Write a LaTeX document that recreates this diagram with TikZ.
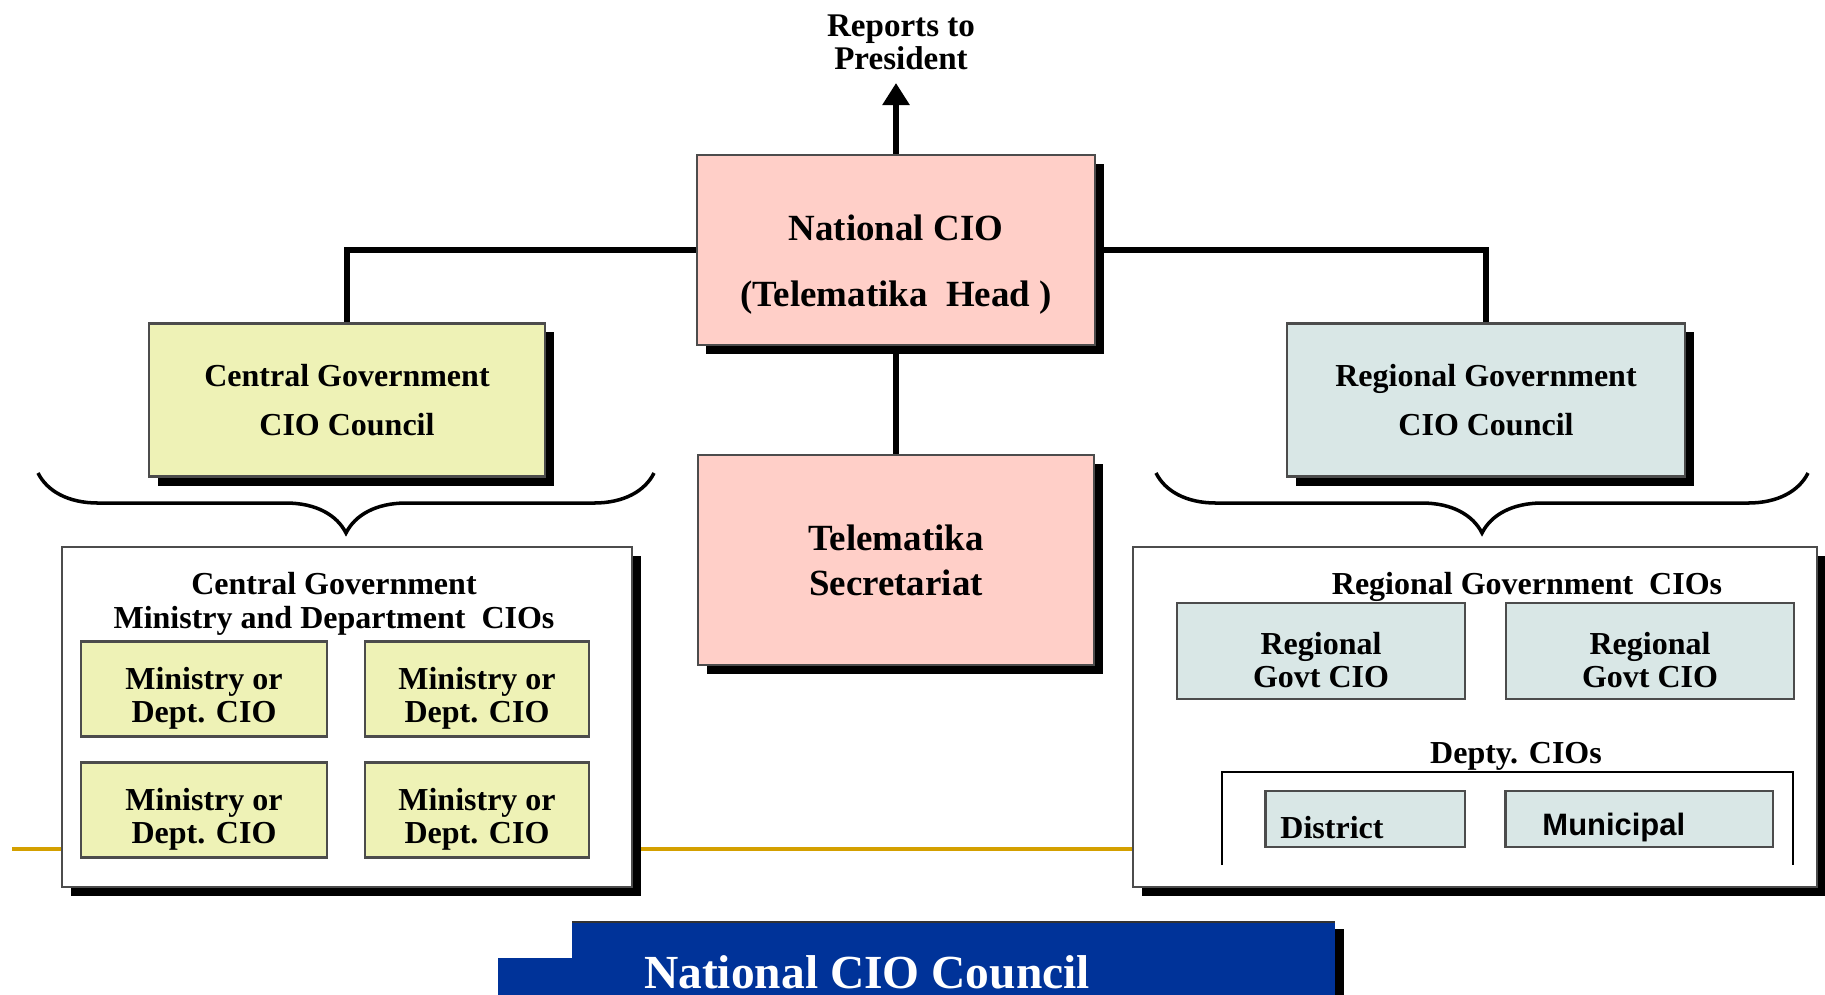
\documentclass[tikz,border=0pt]{standalone}
\usepackage{fontspec}
\setmainfont{Liberation Serif}
\newfontfamily\arialbold{Liberation Sans}
\usepackage{tikz}
\usetikzlibrary{arrows.meta, shadows, decorations.pathreplacing}
\definecolor{Salmon}{HTML}{FFCFC8}
\definecolor{PaleLime}{HTML}{EEF2B6}
\definecolor{Mist}{HTML}{D9E7E6}
\definecolor{RoyalBlue}{HTML}{003399}
\definecolor{Ochre}{HTML}{D4A000}

\begin{document}
\begin{tikzpicture}[x=0.01cm, y=-0.01cm,
        box/.style={draw=black!70, line width=0.6pt, align=center, inner sep=0pt,
                    font=\bfseries\fontsize{9.1}{9.4}\selectfont},
        heavy/.style={box, drop shadow={shadow xshift=0.09cm, shadow yshift=-0.09cm,
                    fill=black, opacity=1}},
        cell/.style={box, minimum height=0.95cm, text width=2.0cm, align=flush center,
                    execute at begin node={\rule{0pt}{0.40cm}}},
        conn/.style={line width=1.85pt},
        curly/.style={line width=1pt, decorate,
                    decoration={brace, mirror, amplitude=0.6cm}}]

        \useasboundingbox (0,0) rectangle (1825,994);

        % Rule running behind the lower boxes
        \draw[Ochre, line width=0.04cm] (12,849) -- (1825,849);

        % Top level
        \node[font=\bfseries\fontsize{9.4}{9.4}\selectfont, align=center] (pres) at (901,42)
              {Reports to\\President};
        \node[heavy, fill=Salmon, minimum width=3.98cm, minimum height=1.90cm, text width=3.6cm,
              align=flush center, font=\bfseries\fontsize{10.5}{18.8}\selectfont,
              execute at begin node={\rule{0pt}{0.55cm}}] (natcio) at (896,250)
              {National CIO\\(Telematika\ \ Head )};
        \node[heavy, fill=Salmon, minimum width=3.96cm, minimum height=2.10cm,
              font=\bfseries\fontsize{10.5}{12.8}\selectfont] (secr) at (896,560)
              {Telematika\\Secretariat};

        % Councils
        \node[heavy, fill=PaleLime, minimum width=3.95cm, minimum height=1.53cm,
              font=\bfseries\fontsize{9.1}{13.7}\selectfont] (cgcouncil) at (347,400)
              {Central Government\\CIO Council};
        \node[heavy, fill=Mist, minimum width=3.97cm, minimum height=1.53cm,
              font=\bfseries\fontsize{9.1}{13.7}\selectfont] (rgcouncil) at (1486,400)
              {Regional Government\\CIO Council};

        % Arrows
        \coordinate (up) at (896,83);
        \draw[conn, -{Triangle[width=0.26cm, length=0.22cm]}] (natcio.north) -- (up);
        \draw[conn] (natcio.west) -| (cgcouncil.north);
        \draw[conn] (natcio.east) -| (rgcouncil.north);
        \draw[conn] (natcio.south) -- (secr.north);

        % Braces
        \coordinate (cgL) at (38,473);
        \coordinate (cgR) at (654,473);
        \coordinate (rgL) at (1156,473);
        \coordinate (rgR) at (1808,473);
        \draw[curly] (cgL) -- (cgR);
        \draw[curly] (rgL) -- (rgR);

        % Central government CIOs
        \node[heavy, fill=white, minimum width=5.70cm, minimum height=3.40cm] (cgouter) at (347,717) {};
        \node[font=\bfseries\fontsize{9.1}{9.7}\selectfont, align=center] (cgtitle) at (334,604)
              {Central Government\\Ministry and Department\ \ CIOs};
        \node[cell, fill=PaleLime, minimum width=2.45cm] (min1) at (204,689) {Ministry or\\Dept. CIO};
        \node[cell, fill=PaleLime, minimum width=2.23cm] (min2) at (477,689) {Ministry or\\Dept. CIO};
        \node[cell, fill=PaleLime, minimum width=2.45cm] (min3) at (204,810) {Ministry or\\Dept. CIO};
        \node[cell, fill=PaleLime, minimum width=2.23cm] (min4) at (477,810) {Ministry or\\Dept. CIO};

        % Regional government CIOs
        \node[heavy, fill=white, minimum width=6.83cm, minimum height=3.40cm] (rgouter) at (1475,717) {};
        \node[font=\bfseries\fontsize{9.1}{9.7}\selectfont] (rgtitle) at (1527,587)
              {Regional Government\ \ CIOs};
        \node[cell, fill=Mist, minimum width=2.88cm, minimum height=0.96cm] (rgcio1) at (1321,651) {Regional\\Govt CIO};
        \node[cell, fill=Mist, minimum width=2.88cm, minimum height=0.96cm] (rgcio2) at (1650,651) {Regional\\Govt CIO};

        \node[font=\bfseries\fontsize{9.1}{9.7}\selectfont] (depty) at (1516,756) {Depty. CIOs};
        \draw[line width=0.6pt] (1222,865) |- (1793,772) -- (1793,865);
        \node[cell, fill=Mist, minimum width=1.99cm, minimum height=0.56cm, text width=1.69cm,
              align=left, inner xsep=0.15cm] (district) at (1365,819) {District};
        \node[cell, fill=Mist, minimum width=2.67cm, minimum height=0.56cm, text width=1.93cm,
              align=left, inner xsep=0.37cm, font=\arialbold\bfseries\fontsize{8.8}{8.8}\selectfont]
              (munic) at (1639,819) {Municipal};

        % Council banner
        \fill[RoyalBlue] (498,958) rectangle (600,1010);
        \fill[RoyalBlue, drop shadow={shadow xshift=0.09cm, shadow yshift=-0.07cm, fill=black, opacity=1}]
              (572,922) rectangle (1335,1010);
        \draw[black!80, line width=0.6pt] (572,922) -- (1335,922);
        \node[font=\bfseries\fontsize{13.5}{13.5}\selectfont, text=white, anchor=base] (ncc) at (867,988)
              {National CIO Council};
\end{tikzpicture}
\end{document}
